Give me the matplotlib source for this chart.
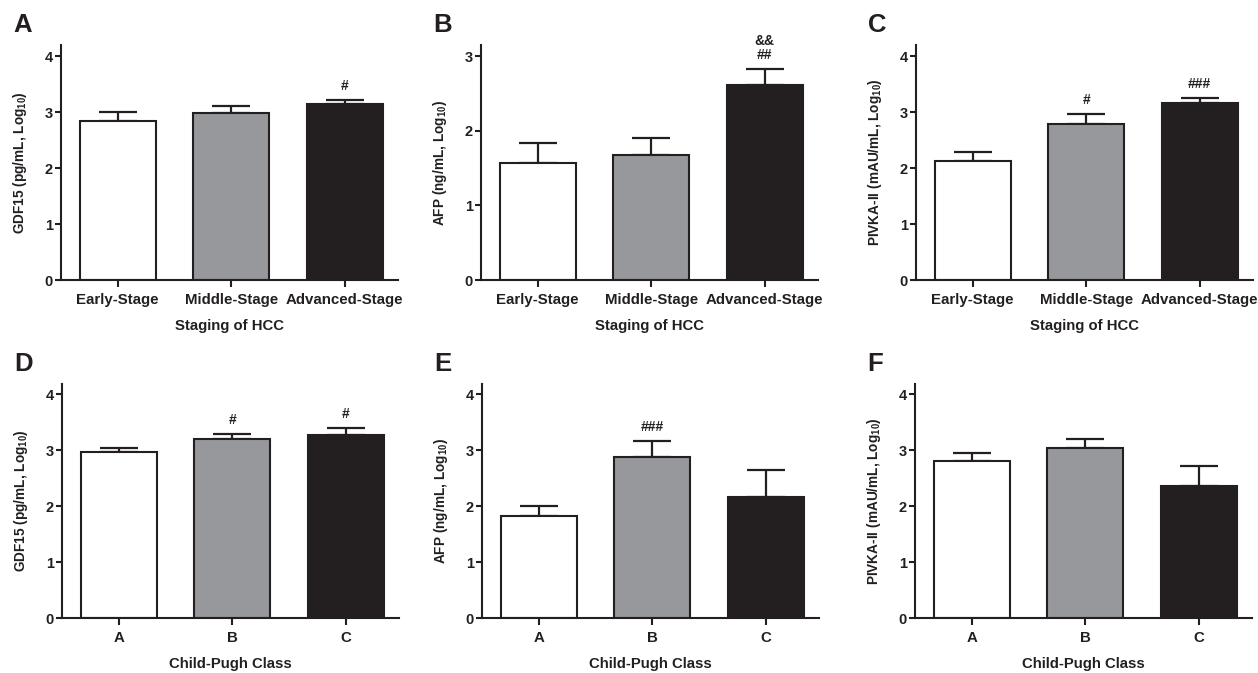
import matplotlib
matplotlib.use("Agg")
import matplotlib.pyplot as plt

plt.rcParams['font.family'] = ['Liberation Sans', 'DejaVu Sans']
plt.rcParams['font.weight'] = 'bold'
plt.rcParams['mathtext.fontset'] = 'custom'
plt.rcParams['mathtext.rm'] = 'Liberation Sans:bold'
plt.rcParams['mathtext.bf'] = 'Liberation Sans:bold'
plt.rcParams['mathtext.default'] = 'rm'

# ---- data ----
stage_labels = ['Early-Stage', 'Middle-Stage', 'Advanced-Stage']
cp_labels = ['A', 'B', 'C']

gdf15_stage = [2.85, 2.99, 3.15]
gdf15_stage_err = [0.15, 0.12, 0.07]
afp_stage = [1.575, 1.68, 2.62]
afp_stage_err = [0.255, 0.23, 0.21]
pivka_stage = [2.13, 2.78, 3.155]
pivka_stage_err = [0.16, 0.18, 0.105]

gdf15_cp = [2.965, 3.19, 3.27]
gdf15_cp_err = [0.07, 0.10, 0.12]
afp_cp = [1.82, 2.87, 2.16]
afp_cp_err = [0.18, 0.29, 0.49]
pivka_cp = [2.81, 3.03, 2.35]
pivka_cp_err = [0.14, 0.17, 0.36]

sig_A = ['', '', '#']
sig_B = ['', '', '&&\n##']
sig_C = ['', '#', '###']
sig_D = ['', '#', '#']
sig_E = ['', '###', '']
sig_F = ['', '', '']

ylab_gdf = r'GDF15 (pg/mL, Log$_{10}$)'
ylab_afp = r'AFP (ng/mL, Log$_{10}$)'
ylab_pivka = r'PIVKA-II (mAU/mL, Log$_{10}$)'

bar_colors = ['#ffffff', '#97989b', '#231f20']
ink = '#231f20'

W, H = 1258, 673
fig = plt.figure(figsize=(W / 100, H / 100), dpi=100)


def px_axes(left, top, right, bottom):
    return fig.add_axes([left / W, 1 - bottom / H, (right - left) / W, (bottom - top) / H])


panels = [
    ('A', (61, 45, 398, 280), gdf15_stage, gdf15_stage_err, sig_A, stage_labels, ylab_gdf, 'Staging of HCC', 4.2, 4),
    ('B', (481, 45, 818, 280), afp_stage, afp_stage_err, sig_B, stage_labels, ylab_afp, 'Staging of HCC', 3.15, 3),
    ('C', (916, 45, 1253, 280), pivka_stage, pivka_stage_err, sig_C, stage_labels, ylab_pivka, 'Staging of HCC', 4.2, 4),
    ('D', (62, 384, 399, 618), gdf15_cp, gdf15_cp_err, sig_D, cp_labels, ylab_gdf, 'Child-Pugh Class', 4.18, 4),
    ('E', (482, 384, 819, 618), afp_cp, afp_cp_err, sig_E, cp_labels, ylab_afp, 'Child-Pugh Class', 4.18, 4),
    ('F', (915, 384, 1252, 618), pivka_cp, pivka_cp_err, sig_F, cp_labels, ylab_pivka, 'Child-Pugh Class', 4.18, 4),
]

for letter, box, vals, errs, sigs, xt, ylab, xlab, ytop, ymaxtick in panels:
    ax = px_axes(*box)
    x = list(range(len(vals)))
    ax.bar(x, vals, width=0.67, color=bar_colors, edgecolor=ink, linewidth=1.5, zorder=2)
    ax.errorbar(x, vals, yerr=[[0] * len(errs), errs], fmt='none', ecolor=ink,
                elinewidth=1.6, capsize=13.5, capthick=1.6, zorder=1)
    for xi, v, e, s in zip(x, vals, errs, sigs):
        if s:
            ax.annotate(s, (xi, v + e), xytext=(0, 5), textcoords='offset points',
                        ha='center', va='bottom', fontsize=10, fontweight='bold',
                        color=ink, linespacing=0.95)
    ax.set_xlim(-0.5, 2.47)
    ax.set_ylim(0, ytop)
    ax.set_yticks(range(0, ymaxtick + 1))
    ax.set_xticks(x)
    ax.set_xticklabels(xt)
    for sp in ['top', 'right']:
        ax.spines[sp].set_visible(False)
    for sp in ['left', 'bottom']:
        ax.spines[sp].set_color(ink)
        ax.spines[sp].set_linewidth(1.5)
    ax.tick_params(axis='y', length=4, width=1.5, color=ink, labelsize=10.5, pad=2, labelcolor=ink)
    ax.tick_params(axis='x', length=5, width=1.5, color=ink, labelsize=10.8, pad=4, labelcolor=ink)
    ax.set_ylabel(ylab, fontsize=9.8, fontweight='bold', color=ink, labelpad=11)
    ax.set_xlabel(xlab, fontsize=10.7, fontweight='bold', color=ink, labelpad=9)
    left, top = box[0], box[1]
    fig.text((left - 48) / W, 1 - (top - 20) / H, letter, fontsize=18.5, fontweight='bold',
             color=ink, ha='left', va='center')

fig.savefig('out.png', dpi=100)
